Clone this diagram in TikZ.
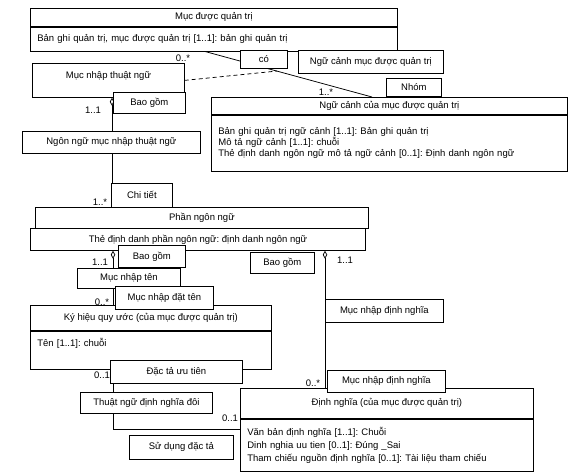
\documentclass[tikz,border=0pt]{standalone}
\usepackage{fontspec}
\setmainfont{Liberation Sans}
\usetikzlibrary{arrows.meta,calc,backgrounds}
\frenchspacing
\newcommand{\fsz}{\fontsize{9.5}{11}\selectfont}
\tikzset{cls/.style={draw,fill=white,anchor=north west,inner sep=2pt,font=\fsz,line width=0.75pt},
  attr/.style={cls,align=left,inner xsep=7pt},
  tag/.style={cls},
  mult/.style={font=\fsz,inner sep=0pt},
  assoc/.style={line width=0.75pt},
  aggr/.style={{Diamond[open,length=8pt,width=4.5pt]}-,line width=0.75pt}}

\begin{document}
\begin{tikzpicture}[x=1pt,y=-1pt]
\useasboundingbox (0,0) rectangle (578,473);
\node[cls,minimum width=367pt,minimum height=18pt] (mdqt) at (30,8) {Mục được quản trị};
\node[attr,text width=353pt,minimum height=24pt] (mdqt-a) at (mdqt.south west) {Bản ghi quản trị, mục được quản trị [1..1]: bản ghi quản trị};
\node[cls,minimum width=152pt,minimum height=34pt,text height=6pt,text depth=10pt] (mnt) at (32,63) {Mục nhập thuật ngữ};
\node[tag,minimum width=47pt,minimum height=18pt] (co) at (240,50) {có};
\node[tag,minimum width=145pt,minimum height=23pt] (ncm) at (298,50) {Ngữ cảnh mục được quản trị};
\node[tag,minimum width=55pt,minimum height=18pt] (nhom) at (386,78) {Nhóm};
\node[cls,minimum width=356pt,minimum height=17pt] (ngc) at (211,97) {Ngữ cảnh của mục được quản trị};
\node[attr,text width=342pt,minimum height=56pt] (ngc-a) at (ngc.south west) {Bản ghi quản trị ngữ cảnh [1..1]: Bản ghi quản trị\\Mô tả ngữ cảnh [1..1]: chuỗi\\Thẻ định danh ngôn ngữ mô tả ngữ cảnh [0..1]: Định danh ngôn ngữ};
\node[tag,minimum width=72pt,minimum height=21pt] (bg1) at (113,92) {Bao gồm};
\node[cls,minimum width=178pt,minimum height=22pt] (nnm) at (22,131) {Ngôn ngữ mục nhập thuật ngữ};
\node[tag,minimum width=61pt,minimum height=24pt] (ct) at (111,183) {Chi tiết};
\node[cls,minimum width=333pt,minimum height=21pt] (pnn) at (35,207) {Phần ngôn ngữ};
\node[cls,minimum width=335pt,minimum height=22pt] (pnn-a) at (30,228) {Thẻ định danh phần ngôn ngữ: định danh ngôn ngữ};
\node[tag,minimum width=67pt,minimum height=22pt] (bg2) at (118,245) {Bao gồm};
\node[tag,minimum width=64pt,minimum height=21pt] (bg3) at (250,252) {Bao gồm};
\node[tag,minimum width=103pt,minimum height=20pt] (mnten) at (77,268) {Mục nhập tên};
\node[cls,minimum width=241pt,minimum height=25pt] (khq) at (30,305) {Ký hiệu quy ước (của mục được quản trị)};
\node[attr,text width=227pt,minimum height=38pt,text height=6pt,text depth=14pt] (khq-a) at (khq.south west) {Tên [1..1]: chuỗi};
\node[tag,minimum width=98pt,minimum height=23pt] (mndt) at (115,286) {Mục nhập đặt tên};
\node[tag,minimum width=132pt,minimum height=23pt] (dtut) at (110,360) {Đặc tả ưu tiên};
\node[tag,minimum width=132pt,minimum height=21pt] (tndn) at (80,392) {Thuật ngữ định nghĩa đôi};
\node[tag,minimum width=104pt,minimum height=24pt] (sddt) at (129,435) {Sử dụng đặc tả};
\node[tag,minimum width=118pt,minimum height=23pt] (mndn1) at (325,299) {Mục nhập định nghĩa};
\node[cls,minimum width=293pt,minimum height=30pt] (dn) at (240,388) {Định nghĩa (của mục được quản trị)};
\node[attr,text width=279pt,minimum height=52pt,font=\fontsize{9.5}{13}\selectfont] (dn-a) at (dn.south west) {Văn bản định nghĩa [1..1]: Chuỗi\\Dinh nghia uu tien [0..1]: Đúng \_Sai\\Tham chiếu nguồn định nghĩa [0..1]: Tài liệu tham chiếu};
\node[tag,minimum width=118pt,minimum height=22pt] (mndn2) at (327,370) {Mục nhập định nghĩa};
\node[mult] (m-co1) at (183,58) {0..*};
\node[mult] (m-co2) at (326,92) {1..*};
\node[mult] (m-bg1) at (93,110) {1..1};
\node[mult] (m-ct) at (100,202) {1..*};
\node[mult] (m-bg2) at (100,262) {1..1};
\node[mult] (m-khq) at (102,302) {0..*};
\node[mult] (m-bg3) at (345,260) {1..1};
\node[mult] (m-dt1) at (102,375) {0..1};
\node[mult] (m-dt2) at (230,418) {0..1};
\node[mult] (m-dn) at (313,383) {0..*};
\begin{pgfonlayer}{background}
\coordinate (co-s) at ([xshift=175pt]mdqt-a.south west);
\coordinate (co-e) at ([xshift=161pt]ngc.north west);
\coordinate (mnt-d) at ([xshift=80pt]mnt.south west);
\coordinate (pnn-l) at ([xshift=83pt]pnn-a.south west);
\coordinate (pnn-r) at ([xshift=295pt]pnn-a.south west);
\coordinate (khq-d) at ([xshift=83pt]khq-a.south west);
\coordinate (dn-w) at ([yshift=-11pt]dn-a.north west);
\draw[assoc] (co-s) -- (co-e);
\draw[assoc,dash pattern=on 4pt off 3pt] (mnt.east) -- ($(co-s)!0.43!(co-e)$);
\draw[aggr] (mnt-d) -- (mnt-d |- nnm.north);
\draw[assoc] (mnt-d |- nnm.south) -- (mnt-d |- pnn.north);
\draw[aggr] (pnn-l) -- (pnn-l |- khq.north);
\draw[aggr] (pnn-r) -- (pnn-r |- dn.north);
\draw[assoc] (khq-d) |- (dn-w);
\end{pgfonlayer}
\end{tikzpicture}
\end{document}
